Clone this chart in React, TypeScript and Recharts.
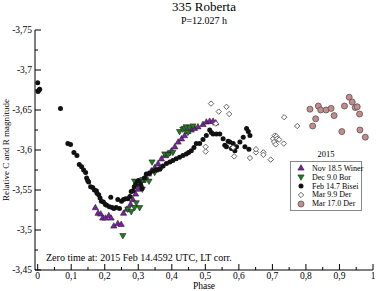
import { ScatterChart, Scatter, XAxis, YAxis, Legend } from 'recharts';

// phase, relative magnitude
const winer: [number, number][] = [
  [0.172, -3.528], [0.18, -3.521], [0.188, -3.52], [0.194, -3.515], [0.202, -3.515],
  [0.212, -3.518], [0.219, -3.515], [0.227, -3.505], [0.239, -3.508], [0.249, -3.507],
  [0.256, -3.521], [0.266, -3.526], [0.277, -3.532], [0.284, -3.538], [0.292, -3.545],
  [0.299, -3.551], [0.307, -3.557], [0.314, -3.562], [0.322, -3.566], [0.33, -3.57],
  [0.339, -3.574], [0.349, -3.578], [0.359, -3.583], [0.369, -3.589], [0.379, -3.593],
  [0.389, -3.596], [0.399, -3.599], [0.409, -3.604], [0.419, -3.61], [0.429, -3.614],
  [0.438, -3.618], [0.448, -3.623], [0.458, -3.625], [0.468, -3.627], [0.478, -3.629],
  [0.493, -3.632], [0.503, -3.635], [0.513, -3.636], [0.523, -3.636], [0.531, -3.634],
];

const bor: [number, number][] = [
  [0.254, -3.493], [0.269, -3.526], [0.279, -3.523], [0.289, -3.528], [0.294, -3.534],
  [0.304, -3.528], [0.289, -3.561], [0.312, -3.551], [0.314, -3.563], [0.321, -3.563],
  [0.332, -3.561], [0.341, -3.585], [0.349, -3.572], [0.359, -3.576], [0.369, -3.578],
  [0.379, -3.595], [0.389, -3.594], [0.403, -3.597], [0.423, -3.623], [0.433, -3.626],
  [0.438, -3.627], [0.443, -3.629], [0.448, -3.622], [0.453, -3.628], [0.463, -3.63],
];

const bisei: [number, number][] = [
  [0.0, -3.684], [0.001, -3.673], [0.004, -3.675], [0.006, -3.676], [0.068, -3.652],
  [0.09, -3.608], [0.098, -3.607], [0.108, -3.597], [0.117, -3.593], [0.124, -3.582],
  [0.131, -3.579], [0.137, -3.575], [0.143, -3.572], [0.146, -3.565], [0.149, -3.562],
  [0.152, -3.56], [0.158, -3.554], [0.164, -3.553], [0.169, -3.55], [0.175, -3.549],
  [0.177, -3.546], [0.182, -3.544], [0.186, -3.54], [0.19, -3.536], [0.196, -3.535],
  [0.202, -3.532], [0.206, -3.531], [0.214, -3.529], [0.218, -3.541], [0.222, -3.528],
  [0.227, -3.527], [0.234, -3.528], [0.239, -3.538], [0.244, -3.527], [0.25, -3.536],
  [0.256, -3.538], [0.262, -3.539], [0.269, -3.539], [0.275, -3.542], [0.279, -3.548],
  [0.284, -3.549], [0.288, -3.554], [0.292, -3.557], [0.298, -3.561], [0.301, -3.562],
  [0.307, -3.557], [0.311, -3.552], [0.318, -3.565], [0.324, -3.57], [0.334, -3.571],
  [0.344, -3.574], [0.354, -3.575], [0.364, -3.576], [0.374, -3.58], [0.384, -3.583],
  [0.394, -3.585], [0.403, -3.587], [0.413, -3.589], [0.423, -3.591], [0.433, -3.593],
  [0.443, -3.595], [0.45, -3.597], [0.458, -3.599], [0.466, -3.603], [0.473, -3.608],
  [0.483, -3.608], [0.493, -3.613], [0.503, -3.618], [0.513, -3.625], [0.518, -3.622],
  [0.523, -3.62], [0.533, -3.62], [0.543, -3.62], [0.553, -3.614], [0.558, -3.606],
  [0.563, -3.604], [0.568, -3.611], [0.573, -3.61], [0.578, -3.602], [0.583, -3.608],
  [0.588, -3.599], [0.593, -3.604], [0.603, -3.61], [0.613, -3.616], [0.618, -3.604],
  [0.623, -3.627], [0.628, -3.623], [0.63, -3.601], [0.633, -3.618],
];

const derMar9: [number, number][] = [
  [0.501, -3.604], [0.501, -3.598], [0.517, -3.658], [0.531, -3.633], [0.54, -3.648],
  [0.563, -3.654], [0.571, -3.645], [0.583, -3.603], [0.586, -3.592], [0.633, -3.59],
  [0.651, -3.597], [0.651, -3.601], [0.673, -3.597], [0.673, -3.594], [0.695, -3.588],
  [0.702, -3.614], [0.705, -3.61], [0.707, -3.618], [0.712, -3.617], [0.714, -3.614],
  [0.72, -3.613], [0.71, -3.607], [0.734, -3.608], [0.735, -3.641], [0.774, -3.63],
];

const derMar17: [number, number][] = [
  [0.812, -3.651], [0.82, -3.63], [0.829, -3.639], [0.837, -3.655], [0.844, -3.65],
  [0.86, -3.65], [0.875, -3.652], [0.884, -3.643], [0.907, -3.623], [0.915, -3.655],
  [0.929, -3.666], [0.938, -3.66], [0.947, -3.653], [0.953, -3.654], [0.96, -3.645],
  [0.961, -3.625], [0.977, -3.616],
];

const xTicks = [0, 0.05, 0.1, 0.15, 0.2, 0.25, 0.3, 0.35, 0.4, 0.45, 0.5, 0.55, 0.6, 0.65, 0.7, 0.75, 0.8, 0.85, 0.9, 0.95, 1];
const yTicks = [-3.75, -3.725, -3.7, -3.675, -3.65, -3.625, -3.6, -3.575, -3.55, -3.525, -3.5, -3.475, -3.45];

const FONT = '"Liberation Serif", "DejaVu Serif", serif';

type Kind = 'up' | 'down' | 'dot' | 'diamond' | 'ring';

const SERIES: { name: string; data: [number, number][]; kind: Kind; fill: string }[] = [
  { name: 'Nov 18.5 Winer', data: winer, kind: 'up', fill: '#7e1fa8' },
  { name: 'Dec 9.0 Bor', data: bor, kind: 'down', fill: '#1f7d1f' },
  { name: 'Feb 14.7 Bisei', data: bisei, kind: 'dot', fill: '#111' },
  { name: 'Mar 9.9 Der', data: derMar9, kind: 'diamond', fill: '#fff' },
  { name: 'Mar 17.0 Der', data: derMar17, kind: 'ring', fill: '#c68b8b' },
];

const Marker = ({ kind, cx, cy, fill }: { kind: Kind; cx: number; cy: number; fill: string }) => {
  switch (kind) {
    case 'up':
      return <polygon points={`${cx},${cy - 3.3} ${cx - 3.1},${cy + 2.1} ${cx + 3.1},${cy + 2.1}`} fill={fill} stroke="#222" strokeWidth={0.6} />;
    case 'down':
      return <polygon points={`${cx},${cy + 3.3} ${cx - 3.1},${cy - 2.1} ${cx + 3.1},${cy - 2.1}`} fill={fill} stroke="#222" strokeWidth={0.6} />;
    case 'dot':
      return <circle cx={cx} cy={cy} r={2.5} fill={fill} />;
    case 'diamond':
      return <polygon points={`${cx},${cy - 2.7} ${cx + 2.7},${cy} ${cx},${cy + 2.7} ${cx - 2.7},${cy}`} fill={fill} stroke="#555" strokeWidth={0.9} />;
    default:
      return <circle cx={cx} cy={cy} r={3} fill={fill} stroke="#555" strokeWidth={0.8} />;
  }
};

const fmt = (v: number) => String(Math.round(v * 1000) / 1000).replace('.', ',');
const isMajor = (v: number) => Math.abs(Math.round(v * 20) - v * 20) < 1e-6 && Math.round(v * 20) % 2 === 0;
const isMajorY = (v: number) => Math.abs(Math.round(v * 20) - v * 20) < 1e-6;

const BottomTick = ({ x, y, payload }: any) => {
  const major = isMajor(payload.value);
  return (
    <g>
      <line x1={x} x2={x} y1={y} y2={y - (major ? 6 : 3)} stroke="#000" />
      {major && (
        <text x={x} y={y + 9} textAnchor="middle" fontSize={9.5} fontFamily={FONT} fill="#000">
          {fmt(payload.value)}
        </text>
      )}
    </g>
  );
};

const TopTick = ({ x, y, payload }: any) => (
  <line x1={x} x2={x} y1={y} y2={y + (isMajor(payload.value) ? 6 : 3)} stroke="#000" />
);

const LeftTick = ({ x, y, payload }: any) => {
  const major = isMajorY(payload.value);
  return (
    <g>
      <line x1={x} x2={x + (major ? 6 : 3)} y1={y} y2={y} stroke="#000" />
      {major && (
        <text x={x - 3} y={y + 3} textAnchor="end" fontSize={9.5} fontFamily={FONT} fill="#000">
          {fmt(payload.value)}
        </text>
      )}
    </g>
  );
};

const RightTick = ({ x, y, payload }: any) => (
  <line x1={x} x2={x - (isMajorY(payload.value) ? 6 : 3)} y1={y} y2={y} stroke="#000" />
);

const LegendBox = () => (
  <div style={{ fontFamily: FONT, width: 72, color: '#000' }}>
    <div style={{ textAlign: 'center', fontSize: 8.5, lineHeight: '9px', marginBottom: 2 }}>2015</div>
    <div style={{ border: '1px solid #888', background: '#fff', padding: '2px 0 2px 0' }}>
      {SERIES.map((s) => (
        <div key={s.name} style={{ display: 'flex', alignItems: 'center', height: 8.8, fontSize: 8 }}>
          <svg width={21} height={8} style={{ flex: 'none' }}>
            <Marker kind={s.kind} cx={10} cy={4} fill={s.fill} />
          </svg>
          <span style={{ whiteSpace: 'nowrap' }}>{s.name}</span>
        </div>
      ))}
    </div>
  </div>
);

export default function App() {
  return (
    <div style={{ position: 'absolute', left: 0, top: 0, width: 377, height: 291, background: '#fff' }}>
      <ScatterChart width={377} height={291} margin={{ top: 30, right: 4, bottom: 0, left: 0 }}>
        <XAxis
          type="number"
          dataKey="phase"
          domain={[-0.008, 1]}
          ticks={xTicks}
          interval={0}
          height={21}
          tickSize={0}
          tickMargin={0}
          tick={<BottomTick />}
          axisLine={{ stroke: '#000' }}
          tickLine={false}
        />
        <XAxis
          xAxisId="top"
          orientation="top"
          type="number"
          dataKey="phase"
          domain={[-0.008, 1]}
          ticks={xTicks}
          interval={0}
          height={0}
          tickSize={0}
          tickMargin={0}
          tick={<TopTick />}
          axisLine={{ stroke: '#000' }}
          tickLine={false}
        />
        <YAxis
          type="number"
          dataKey="mag"
          domain={[-3.75, -3.45]}
          reversed
          ticks={yTicks}
          interval={0}
          width={35}
          tickSize={0}
          tickMargin={0}
          tick={<LeftTick />}
          axisLine={{ stroke: '#000' }}
          tickLine={false}
        />
        <YAxis
          yAxisId="right"
          orientation="right"
          type="number"
          dataKey="mag"
          domain={[-3.75, -3.45]}
          reversed
          ticks={yTicks}
          interval={0}
          width={0}
          tickSize={0}
          tickMargin={0}
          tick={<RightTick />}
          axisLine={{ stroke: '#000' }}
          tickLine={false}
        />
        {SERIES.map((s) => (
          <Scatter
            key={s.name}
            name={s.name}
            data={s.data.map(([phase, mag]) => ({ phase, mag }))}
            isAnimationActive={false}
            shape={(p: any) => <Marker kind={s.kind} cx={p.cx} cy={p.cy} fill={s.fill} />}
          />
        ))}
        <Legend
          layout="horizontal"
          verticalAlign="middle"
          align="center"
          content={<LegendBox />}
          wrapperStyle={{ left: 290, top: 150, width: 72 }}
        />
      </ScatterChart>
      <svg width={377} height={291} style={{ position: 'absolute', left: 0, top: 0, pointerEvents: 'none' }} fontFamily={FONT}>
        <text x={204} y={11} textAnchor="middle" fontSize={13}>335 Roberta</text>
        <text x={204} y={24} textAnchor="middle" fontSize={10}>P=12.027 h</text>
        <text x={46} y={261} fontSize={10}>Zero time at: 2015 Feb 14.4592 UTC, LT corr.</text>
        <text x={204} y={289} textAnchor="middle" fontSize={9.5}>Phase</text>
        <text transform="translate(9,150) rotate(-90)" textAnchor="middle" fontSize={9}>Relative C and R magnitude</text>
      </svg>
    </div>
  );
}
